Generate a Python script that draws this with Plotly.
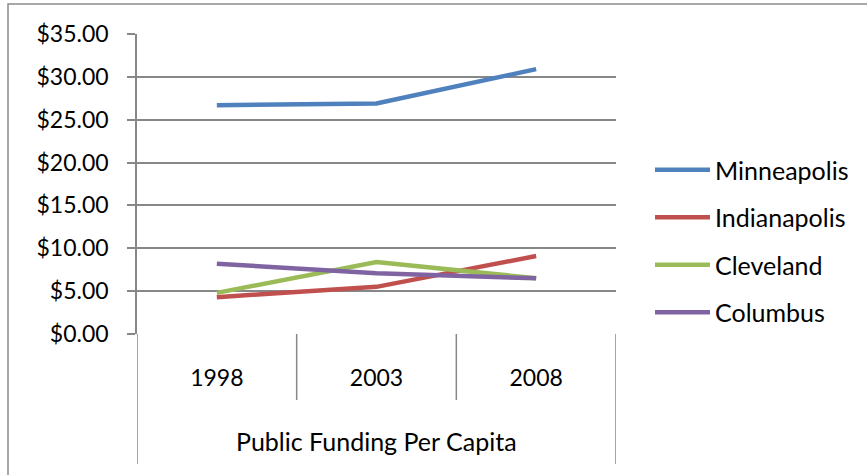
import plotly.graph_objects as go

years = ["1998", "2003", "2008"]
minneapolis = [26.7, 26.9, 30.9]
indianapolis = [4.3, 5.5, 9.1]
cleveland = [4.8, 8.4, 6.5]
columbus = [8.2, 7.1, 6.5]
series_names = ["Minneapolis", "Indianapolis", "Cleveland", "Columbus"]
colors = ["#4F81BD", "#C0504D", "#9BBB59", "#8064A2"]
group_label = "Public Funding Per Capita"

W, H = 867, 475
L, R, T, B = 137, 616, 34, 334
FONT = "Lato"
GRID = "#878787"

fig = go.Figure()
for name, vals, c in zip(series_names, [minneapolis, indianapolis, cleveland, columbus], colors):
    fig.add_trace(go.Scatter(x=years, y=vals, name=name, mode="lines",
                             line=dict(color=c, width=4.5), legendgroup=name))

pw = R - L
ph = B - T
def py(p):
    return (B - p) / ph
def px(p):
    return (p - L) / pw

shapes = []
# outer chart border
shapes.append(dict(type="rect", xref="paper", yref="paper", x0=px(8), x1=px(W + 20),
                   y0=py(H + 20), y1=py(4), line=dict(color="#8c8c8c", width=1.5)))
# category dividers
for xv, bottom in [(-0.5, 464), (0.5, 400), (1.5, 400), (2.5, 464)]:
    shapes.append(dict(type="line", xref="x", yref="paper", x0=xv, x1=xv,
                       y0=0, y1=py(bottom), line=dict(color=GRID, width=1.5), layer="below"))

fig.update_layout(
    width=W, height=H,
    margin=dict(l=L, r=W - R, t=T, b=H - B, pad=0),
    paper_bgcolor="white", plot_bgcolor="white",
    font=dict(family=FONT, size=23, color="black"),
    shapes=shapes,
    showlegend=True,
    legend=dict(x=px(650), xanchor="left", y=py(241), yanchor="middle",
                tracegroupgap=12, itemwidth=55, font=dict(size=25, family=FONT),
                bgcolor="rgba(0,0,0,0)"),
    annotations=[dict(text=group_label, xref="paper", yref="paper", x=0.5, y=py(441),
                      xanchor="center", yanchor="middle", showarrow=False,
                      font=dict(size=25, family=FONT, color="black"))],
)
fig.update_xaxes(type="category", range=[-0.5, 2.5], showgrid=False, showline=False,
                 ticks="", ticklabelstandoff=28, zeroline=False, fixedrange=True,
                 tickfont=dict(size=23))
fig.update_yaxes(range=[0, 35], dtick=5, tickformat="$.2f", showgrid=True, gridcolor=GRID,
                 gridwidth=1.5, showline=True, linecolor=GRID, linewidth=1.5,
                 ticks="outside", ticklen=8, tickcolor=GRID, tickwidth=1.5,
                 ticklabelstandoff=14, zeroline=False, tickfont=dict(size=23))

fig.write_html("out.html")
